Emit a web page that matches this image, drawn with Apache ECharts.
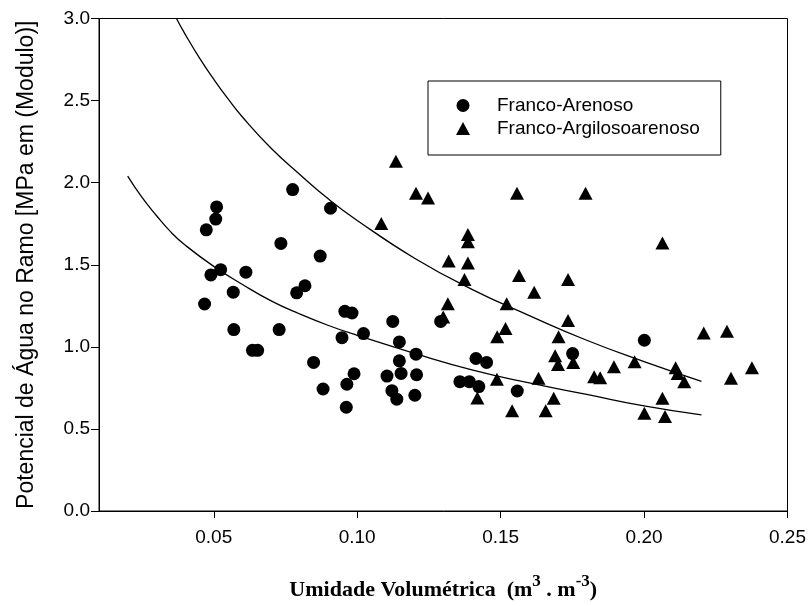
<!DOCTYPE html>
<html>
<head>
<meta charset="utf-8">
<script src="https://cdn.jsdelivr.net/npm/echarts@6/dist/echarts.min.js"></script>
<style>
html,body{margin:0;padding:0;background:#fff;}
#chart{width:809px;height:606px;}
</style>
</head>
<body>
<div id="chart"></div>
<script>
// Franco-Arenoso (circles): [umidade, potencial]
var arenosoX = [0.0510,0.0507,0.0474,0.0775,0.0907,0.0734,0.0871,0.0524,0.0490,0.0612,
  0.0818,0.0789,0.0568,0.0468,0.0570,0.0728,0.0635,0.0653,0.0848,0.0881,
  0.0957,0.0982,0.1124,0.0947,0.1022,0.1147,0.1205,0.1147,0.1414,0.1451,
  0.0989,0.0964,0.1104,0.1153,0.1207,0.1121,0.1138,0.1201,0.0962,0.1358,
  0.1391,0.1424,0.1291,0.1558,0.1751,0.2001];
var arenosoY = [1.852,1.778,1.713,1.958,1.844,1.630,1.553,1.470,1.438,1.455,
  1.372,1.329,1.333,1.261,1.105,1.105,0.979,0.979,0.905,0.743,
  1.216,1.206,1.155,1.056,1.081,1.030,0.955,0.915,0.929,0.905,
  0.836,0.772,0.822,0.838,0.830,0.733,0.681,0.705,0.632,0.788,
  0.788,0.758,1.155,0.731,0.959,1.040];

// Franco-Argilosoarenoso (triangles)
var argilosoX = [0.1135,0.1205,0.1247,0.1084,0.1386,0.1386,0.1319,0.1386,0.1374,0.1316,
  0.1300,0.1419,0.1557,0.1796,0.1564,0.1735,0.1617,0.1521,0.1735,0.1517,
  0.1488,0.1702,0.1690,0.1700,0.1753,0.1895,0.1967,0.1826,0.1847,0.1487,
  0.1632,0.1685,0.1540,0.1657,0.2064,0.2208,0.2289,0.2376,0.2303,0.2110,
  0.2117,0.2140,0.2064,0.2001,0.2073];
var argilosoY = [2.131,1.935,1.907,1.752,1.685,1.640,1.523,1.511,1.410,1.262,
  1.182,0.689,1.935,1.935,1.434,1.410,1.333,1.262,1.161,1.111,
  1.061,1.061,0.945,0.893,0.905,0.879,0.909,0.818,0.812,0.802,
  0.808,0.687,0.610,0.610,1.632,1.085,1.095,0.873,0.808,0.873,
  0.838,0.788,0.687,0.596,0.576];

// fitted curves
var curveLowX = [0.020,0.025,0.030,0.035,0.040,0.050,0.060,0.070,0.080,0.090,0.100,0.120,0.140,0.160,0.180,0.200,0.220];
var curveLowY = [2.04,1.91,1.80,1.70,1.62,1.49,1.38,1.28,1.20,1.13,1.07,0.96,0.86,0.78,0.71,0.64,0.585];
var curveHighX = [0.037,0.040,0.045,0.050,0.055,0.060,0.070,0.080,0.090,0.100,0.120,0.140,0.160,0.180,0.200,0.220];
var curveHighY = [3.00,2.905,2.76,2.63,2.51,2.40,2.21,2.05,1.90,1.77,1.54,1.35,1.19,1.04,0.91,0.79];

var xTicks = [0.05,0.10,0.15,0.20,0.25];
var yTicks = [0.0,0.5,1.0,1.5,2.0,2.5,3.0];

function zip(a,b){var r=[];for(var i=0;i<a.length;i++)r.push([a[i],b[i]]);return r;}

var sans = '"Liberation Sans", Arial, sans-serif';
var serif = '"Liberation Serif", "Times New Roman", serif';

var chart = echarts.init(document.getElementById('chart'), null, {renderer:'canvas'});
chart.setOption({
  animation:false,
  backgroundColor:'#fff',
  grid:{left:99, right:21, top:18.5, bottom:92.7, show:true, borderColor:'#000', borderWidth:1, backgroundColor:'transparent'},
  legend:{
    data:[{name:'Franco-Arenoso', icon:'circle'},{name:'Franco-Argilosoarenoso', icon:'triangle'}],
    orient:'vertical', left:428, top:81,
    padding:[15,21,17,28],
    itemWidth:14, itemHeight:13, itemGap:4,
    borderColor:'#000', borderWidth:1,
    textStyle:{fontFamily:sans, fontSize:19, color:'#000', padding:[0,0,0,22]}
  },
  xAxis:{
    type:'value', min:0.01, max:0.25,
    axisLine:{show:true, lineStyle:{color:'#000', width:1}},
    axisTick:{show:true, length:7, customValues:xTicks, lineStyle:{color:'#000'}},
    axisLabel:{customValues:xTicks, margin:17, fontFamily:sans, fontSize:19, color:'#000',
      formatter:function(v){return v.toFixed(2);}},
    splitLine:{show:false},
    name:'{a|Umidade Volumétrica  (m}{s|3}{a| . m}{s|-3}{a|)}',
    nameLocation:'middle', nameGap:62,
    nameTextStyle:{rich:{
      a:{fontFamily:serif, fontWeight:'bold', fontSize:22, color:'#000', verticalAlign:'bottom'},
      s:{fontFamily:serif, fontWeight:'bold', fontSize:17, color:'#000', verticalAlign:'bottom', padding:[0,0,11,0]}
    }}
  },
  yAxis:{
    type:'value', min:0, max:3, interval:0.5,
    axisLine:{show:true, lineStyle:{color:'#000', width:1}},
    axisTick:{show:true, length:8, lineStyle:{color:'#000'}},
    axisLabel:{margin:9, fontFamily:sans, fontSize:19, color:'#000',
      formatter:function(v){return v.toFixed(1);}},
    splitLine:{show:false},
    name:'Potencial de Água no Ramo [MPa em (Modulo)]',
    nameLocation:'middle', nameGap:61,
    nameTextStyle:{fontFamily:sans, fontSize:23, color:'#000'}
  },
  series:[
    {name:'curveLow', type:'line', data:zip(curveLowX,curveLowY), smooth:true, symbol:'none',
      lineStyle:{color:'#000', width:1.3}, z:1, silent:true},
    {name:'curveHigh', type:'line', data:zip(curveHighX,curveHighY), smooth:true, symbol:'none',
      lineStyle:{color:'#000', width:1.3}, z:1, silent:true},
    {name:'Franco-Arenoso', type:'scatter', data:zip(arenosoX,arenosoY), symbol:'circle', symbolSize:13,
      itemStyle:{color:'#000', opacity:1}, z:3},
    {name:'Franco-Argilosoarenoso', type:'scatter', data:zip(argilosoX,argilosoY), symbol:'triangle', symbolSize:[14,13],
      itemStyle:{color:'#000', opacity:1}, z:3}
  ]
});
</script>
</body>
</html>
